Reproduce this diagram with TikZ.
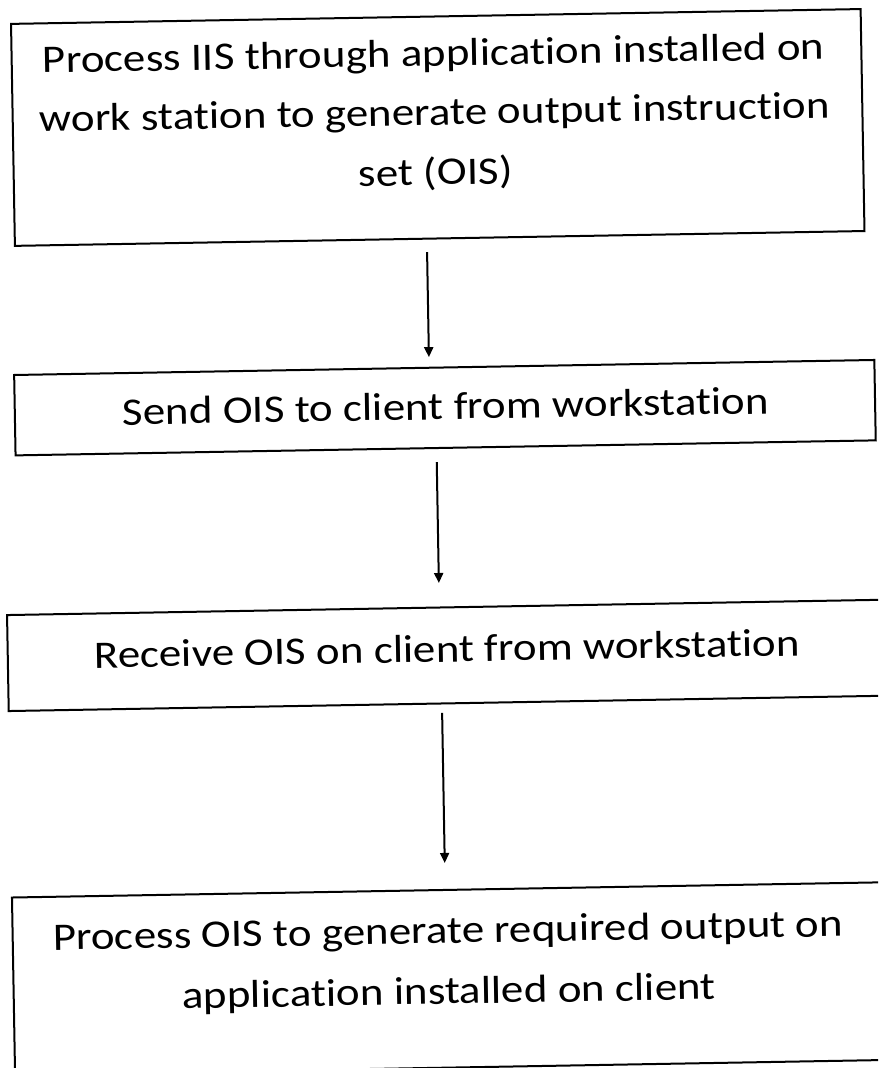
\documentclass[tikz,border=0pt]{standalone}
\usepackage{fontspec}
\setmainfont{Carlito}[Ligatures=NoCommon]
\usetikzlibrary{arrows.meta}
\begin{document}
\begin{tikzpicture}[x=1pt,y=1pt,
  stepbox/.style={draw, line width=2pt, inner sep=0pt, outer sep=0pt},
  steptext/.style={anchor=base, inner sep=0pt, xscale=1.154, font=\fontsize{39}{59}\selectfont},
  flow/.style={line width=2pt, -{Triangle[length=10pt,width=9pt]}}]
\useasboundingbox (0,0) rectangle (878,-1068);
\clip (0,0) rectangle (878,-1068);
\begin{scope}[rotate around={1:(439,-534)}, transform shape]
  % process steps
  \node[stepbox, minimum width=849.7pt, minimum height=222pt] (b1) at (444.85,-127.5) {};
  \node[stepbox, minimum width=860.3pt, minimum height=80.4pt] (b2) at (447.15,-407.8) {};
  \node[stepbox, minimum width=899.3pt, minimum height=96pt]   (b3) at (455.35,-655.5) {};
  \node[stepbox, minimum width=899.3pt, minimum height=177.7pt] (b4) at (455.35,-978.85) {};
  % step texts
  \node[steptext] (t1a) at (442,-66)  {Process IIS through application installed on};
  \node[steptext] (t1b) at (442,-125) {work station to generate output instruction};
  \node[steptext] (t1c) at (442,-185) {set (OIS)};
  \node[steptext] (t2)  at (448,-419.5) {Send OIS to client from workstation};
  \node[steptext] (t3)  at (445,-662) {Receive OIS on client from workstation};
  \node[steptext] (t4a) at (441,-943.3) {Process OIS to generate required output on};
  \node[steptext] (t4b) at (441,-1004)  {application installed on client};
  % connector end points, placed relative to the boxes
  \path (b1.south) ++(-12.85,-13.5) coordinate (a1s);
  \path (b2.north) ++(-15.15,10.6)  coordinate (a1e);
  \path (b2.south) ++(-9.15,-14)    coordinate (a2s);
  \path (b3.north) ++(-17.35,24.5)  coordinate (a2e);
  \path (b3.south) ++(-16.35,-9.5)  coordinate (a3s);
  \path (b4.north) ++(-16.35,27)    coordinate (a3e);
  \draw[flow] (a1s) -- (a1e);
  \draw[flow] (a2s) -- (a2e);
  \draw[flow] (a3s) -- (a3e);
\end{scope}
\end{tikzpicture}
\end{document}
